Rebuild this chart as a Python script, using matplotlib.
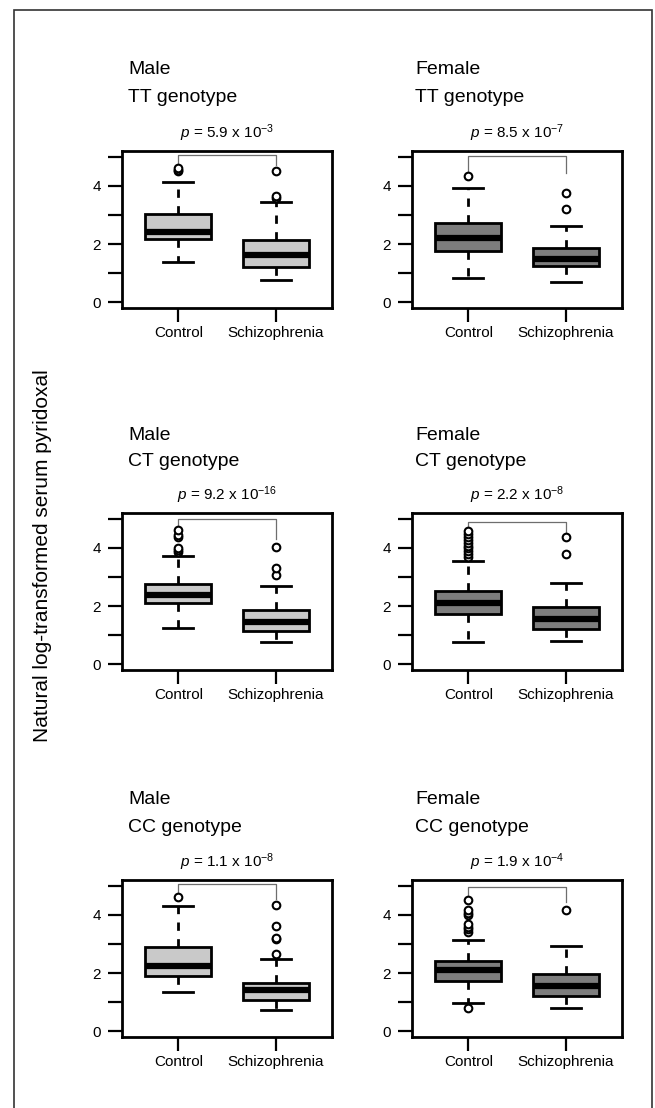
import numpy as np
import matplotlib as mpl
mpl.use('Agg')
import matplotlib.pyplot as plt
from matplotlib.patches import Rectangle

plt.rcParams['font.family'] = ['Liberation Sans', 'DejaVu Sans']
plt.rcParams['mathtext.fontset'] = 'custom'
plt.rcParams['mathtext.rm'] = 'Liberation Sans'
plt.rcParams['mathtext.it'] = 'Liberation Sans:italic'

# panel titles, left->right, top->bottom
sexes = ["Male", "Female", "Male", "Female", "Male", "Female"]
genotypes = ["TT genotype", "TT genotype", "CT genotype", "CT genotype",
             "CC genotype", "CC genotype"]
p_texts = [r"$p$ = 5.9 x 10$^{-3}$", r"$p$ = 8.5 x 10$^{-7}$",
           r"$p$ = 9.2 x 10$^{-16}$", r"$p$ = 2.2 x 10$^{-8}$",
           r"$p$ = 1.1 x 10$^{-8}$", r"$p$ = 1.9 x 10$^{-4}$"]
groups = ["Control", "Schizophrenia"]

# box stats: [control, schizophrenia] per panel
whislo = [[1.39, 0.76], [0.84, 0.70], [1.24, 0.78], [0.77, 0.80], [1.36, 0.72], [0.97, 0.80]]
q1     = [[2.18, 1.22], [1.75, 1.26], [2.10, 1.13], [1.74, 1.20], [1.90, 1.06], [1.71, 1.20]]
med    = [[2.42, 1.62], [2.22, 1.50], [2.38, 1.44], [2.11, 1.57], [2.23, 1.41], [2.11, 1.54]]
q3     = [[3.05, 2.15], [2.73, 1.87], [2.77, 1.85], [2.51, 1.98], [2.91, 1.67], [2.40, 1.97]]
whishi = [[4.15, 3.46], [3.94, 2.62], [3.71, 2.68], [3.54, 2.80], [4.31, 2.47], [3.12, 2.94]]
fliers = [
    [[4.50, 4.55, 4.60], [3.60, 3.66, 4.52]],
    [[4.33], [3.22, 3.74]],
    [[3.86, 3.92, 4.00, 4.36, 4.44, 4.60], [3.08, 3.30, 4.03]],
    [[3.68, 3.78, 3.88, 3.98, 4.08, 4.18, 4.28, 4.38, 4.48, 4.58], [3.80, 4.38]],
    [[4.60], [2.64, 3.16, 3.22, 3.62, 4.33]],
    [[0.80, 3.40, 3.50, 3.60, 3.68, 4.00, 4.08, 4.17, 4.51], [4.17]],
]
# significance bracket: top, left end, right end
bracket_top   = [5.06, 5.03, 4.98, 4.89, 5.06, 4.97]
bracket_left  = [4.71, 4.44, 4.71, 4.68, 4.71, 4.63]
bracket_right = [4.71, 4.44, 4.29, 4.51, 4.54, 4.46]

fill_colors = ['#c9c9c9', '#7d7d7d']  # male, female

W, H = 655, 1108
fig = plt.figure(figsize=(W / 100, H / 100), dpi=100)

col_x = [122, 412]
row_top = [151, 513, 880]
ax_w, ax_h = 210, 157
title_y1 = [70, 435, 800]
title_x = [128, 415]

for i in range(6):
    r, c = divmod(i, 2)
    ax = fig.add_axes([col_x[c] / W, 1 - (row_top[r] + ax_h) / H, ax_w / W, ax_h / H])
    stats = []
    for g in range(2):
        stats.append(dict(med=med[i][g], q1=q1[i][g], q3=q3[i][g],
                          whislo=whislo[i][g], whishi=whishi[i][g],
                          fliers=fliers[i][g], label=groups[g]))
    ax.bxp(stats, positions=[1, 2], widths=0.68, capwidths=0.31,
           patch_artist=True,
           boxprops=dict(facecolor=fill_colors[c], edgecolor='black', linewidth=2),
           medianprops=dict(color='black', linewidth=4.5, solid_capstyle='butt'),
           whiskerprops=dict(color='black', linewidth=2, linestyle=(0, (3, 3))),
           capprops=dict(color='black', linewidth=2),
           flierprops=dict(marker='o', markerfacecolor='white', markeredgecolor='black',
                           markersize=5.5, markeredgewidth=1.5, linestyle='none'))
    ax.plot([1, 1, 2, 2], [bracket_left[i], bracket_top[i], bracket_top[i], bracket_right[i]],
            color='#6e6e6e', linewidth=0.9, zorder=1)
    ax.set_xlim(0.42, 2.58)
    ax.set_ylim(-0.2, 5.2)
    ax.set_yticks([0, 1, 2, 3, 4, 5])
    ax.set_yticklabels(['0', '', '2', '', '4', ''])
    ax.set_xticks([1, 2])
    ax.set_xticklabels(groups)
    ax.tick_params(axis='both', length=10, width=1.6, labelsize=11, colors='black', pad=5)
    ax.tick_params(axis='x', pad=3)
    for s in ax.spines.values():
        s.set_linewidth(2)
    ax.text(0.5, 1 + 18 / ax_h, p_texts[i], transform=ax.transAxes,
            ha='center', va='center', fontsize=11)
    fig.text(title_x[c] / W, 1 - title_y1[r] / H, sexes[i], ha='left', va='center',
             fontsize=14)
    fig.text(title_x[c] / W, 1 - (title_y1[r] + 27) / H, genotypes[i], ha='left',
             va='center', fontsize=14)

fig.text(43 / W, 1 - 556 / H, "Natural log-transformed serum pyridoxal",
         rotation=90, ha='center', va='center', fontsize=15)

fig.patches.append(Rectangle((14 / W, -0.01), (652 - 14) / W, 1.01 - 10 / H,
                             transform=fig.transFigure, fill=False,
                             edgecolor='#333333', linewidth=1.2))

fig.savefig("out.png", dpi=100)
